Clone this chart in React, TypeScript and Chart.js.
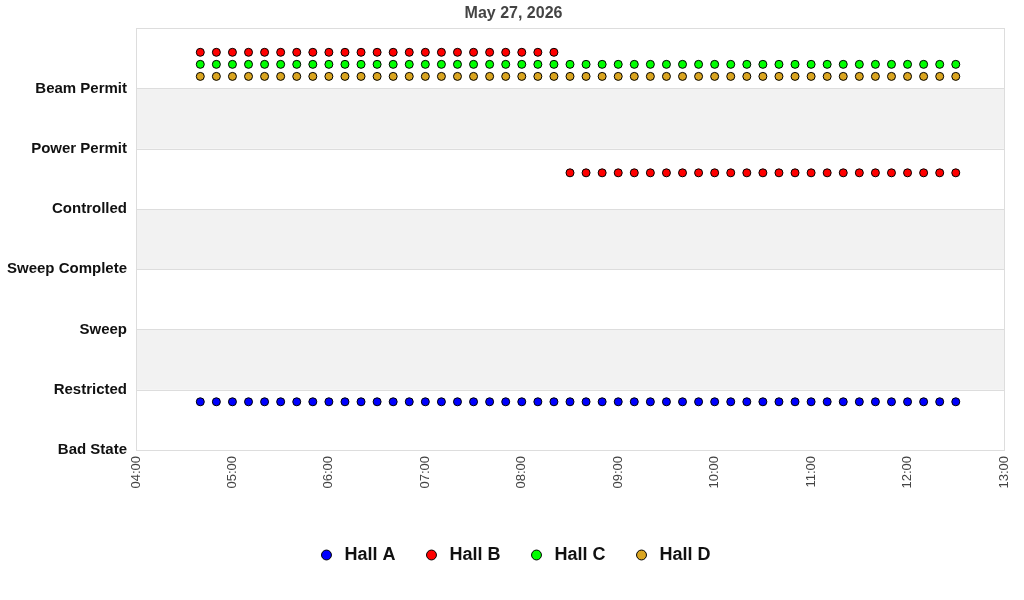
import { useEffect, useRef } from 'react'
import { Chart, registerables } from 'chart.js'

Chart.register(...registerables)

const stateLabels = ['Bad State', 'Restricted', 'Sweep', 'Sweep Complete', 'Controlled', 'Power Permit', 'Beam Permit']

const halls = ['Hall A', 'Hall B', 'Hall C', 'Hall D']
const hallColors = ['#0000ff', '#ff0000', '#00ff00', '#daa520']
// each hall is drawn a little above the line of its state
const hallOffsets = [0.8, 0.6, 0.4, 0.2]

const times = [
  '04:40', '04:50',
  '05:00', '05:10', '05:20', '05:30', '05:40', '05:50',
  '06:00', '06:10', '06:20', '06:30', '06:40', '06:50',
  '07:00', '07:10', '07:20', '07:30', '07:40', '07:50',
  '08:00', '08:10', '08:20', '08:30', '08:40', '08:50',
  '09:00', '09:10', '09:20', '09:30', '09:40', '09:50',
  '10:00', '10:10', '10:20', '10:30', '10:40', '10:50',
  '11:00', '11:10', '11:20', '11:30', '11:40', '11:50',
  '12:00', '12:10', '12:20', '12:30',
]

const hallA = [
  0, 0,
  0, 0, 0, 0, 0, 0,
  0, 0, 0, 0, 0, 0,
  0, 0, 0, 0, 0, 0,
  0, 0, 0, 0, 0, 0,
  0, 0, 0, 0, 0, 0,
  0, 0, 0, 0, 0, 0,
  0, 0, 0, 0, 0, 0,
  0, 0, 0, 0,
]
const hallB = [
  6, 6,
  6, 6, 6, 6, 6, 6,
  6, 6, 6, 6, 6, 6,
  6, 6, 6, 6, 6, 6,
  6, 6, 6, 4, 4, 4,
  4, 4, 4, 4, 4, 4,
  4, 4, 4, 4, 4, 4,
  4, 4, 4, 4, 4, 4,
  4, 4, 4, 4,
]
const hallC = [
  6, 6,
  6, 6, 6, 6, 6, 6,
  6, 6, 6, 6, 6, 6,
  6, 6, 6, 6, 6, 6,
  6, 6, 6, 6, 6, 6,
  6, 6, 6, 6, 6, 6,
  6, 6, 6, 6, 6, 6,
  6, 6, 6, 6, 6, 6,
  6, 6, 6, 6,
]
const hallD = [
  6, 6,
  6, 6, 6, 6, 6, 6,
  6, 6, 6, 6, 6, 6,
  6, 6, 6, 6, 6, 6,
  6, 6, 6, 6, 6, 6,
  6, 6, 6, 6, 6, 6,
  6, 6, 6, 6, 6, 6,
  6, 6, 6, 6, 6, 6,
  6, 6, 6, 6,
]
const hallStates = [hallA, hallB, hallC, hallD]

const FONT = "'Liberation Sans', Arial, sans-serif"

const toMinutes = (t: string) => {
  const [h, m] = t.split(':').map(Number)
  return h * 60 + m
}
const fmtTime = (v: number) => {
  const h = Math.floor(v / 60)
  const m = v % 60
  return String(h).padStart(2, '0') + ':' + String(m).padStart(2, '0')
}

// grey bands behind every other state + frame around plot
const bandsPlugin = {
  id: 'bands',
  afterLayout(chart: any) {
    // nudge title and legend so they centre like the original
    if (chart.legend) chart.legend.left = 24
    if (chart.titleBlock) chart.titleBlock.left = 23
  },
  beforeDatasetsDraw(chart: any) {
    const { ctx, chartArea, scales } = chart
    const y = scales.y
    ctx.save()
    ctx.fillStyle = '#f2f2f2'
    for (let i = 1; i < 7; i += 2) {
      const top = y.getPixelForValue(i + 1)
      const bottom = y.getPixelForValue(i)
      ctx.fillRect(chartArea.left, top, chartArea.right - chartArea.left, bottom - top)
    }
    ctx.strokeStyle = '#dddddd'
    ctx.lineWidth = 1
    for (let i = 0; i <= 7; i++) {
      const py = Math.round(y.getPixelForValue(i)) + 0.5
      ctx.beginPath()
      ctx.moveTo(chartArea.left, py)
      ctx.lineTo(chartArea.right, py)
      ctx.stroke()
    }
    ctx.strokeRect(Math.round(chartArea.left) + 0.5, Math.round(chartArea.top) + 0.5,
      Math.round(chartArea.right - chartArea.left), Math.round(chartArea.bottom - chartArea.top))
    ctx.restore()
  },
}

export default function App() {
  const canvasRef = useRef<HTMLCanvasElement | null>(null)

  useEffect(() => {
    document.body.style.margin = '0'
    if (!canvasRef.current) return

    const chart = new Chart(canvasRef.current, {
      type: 'scatter',
      data: {
        datasets: halls.map((name, i) => ({
          label: name,
          data: times.map((t, j) => ({ x: toMinutes(t), y: hallStates[i][j] + hallOffsets[i] })),
          backgroundColor: hallColors[i],
          borderColor: '#000000',
          borderWidth: 1,
          pointRadius: 4,
          pointHoverRadius: 4,
          pointStyle: 'circle',
        })),
      },
      options: {
        animation: false,
        responsive: false,
        layout: { padding: { left: 0, right: 20, top: 0, bottom: 26 } },
        plugins: {
          title: {
            display: true,
            text: 'May 27, 2026',
            color: '#444444',
            font: { family: FONT, size: 16, weight: 'bold' },
            padding: { top: 4, bottom: 5 },
          },
          legend: {
            position: 'bottom',
            labels: {
              usePointStyle: true,
              boxHeight: 7,
              boxWidth: 18,
              padding: 27,
              color: '#111111',
              font: { family: FONT, size: 18, weight: 'bold' },
            },
          },
          tooltip: { enabled: false },
        },
        scales: {
          x: {
            type: 'linear',
            min: 240,
            max: 780,
            grid: { display: false, drawTicks: false },
            border: { display: false },
            ticks: {
              stepSize: 60,
              minRotation: 90,
              maxRotation: 90,
              padding: 6,
              color: '#444444',
              font: { family: FONT, size: 13 },
              callback: (v: any) => fmtTime(Number(v)),
            },
            afterFit: (scale: any) => {
              scale.height = 69
              scale.paddingRight = 0
              scale.paddingLeft = 0
            },
          },
          y: {
            type: 'linear',
            min: 0,
            max: 7,
            grid: { display: false, drawTicks: false },
            border: { display: false },
            ticks: {
              stepSize: 1,
              padding: 9,
              color: '#111111',
              font: { family: FONT, size: 15, weight: 'bold' },
              callback: (v: any) => stateLabels[Number(v)] ?? '',
            },
            afterFit: (scale: any) => { scale.width = 136 },
          },
        },
      },
      plugins: [bandsPlugin],
    })

    return () => {
      chart.destroy()
    }
  }, [])

  return (
    <div style={{ width: 1024, height: 600 }}>
      <canvas ref={canvasRef} width={1024} height={600} />
    </div>
  )
}
